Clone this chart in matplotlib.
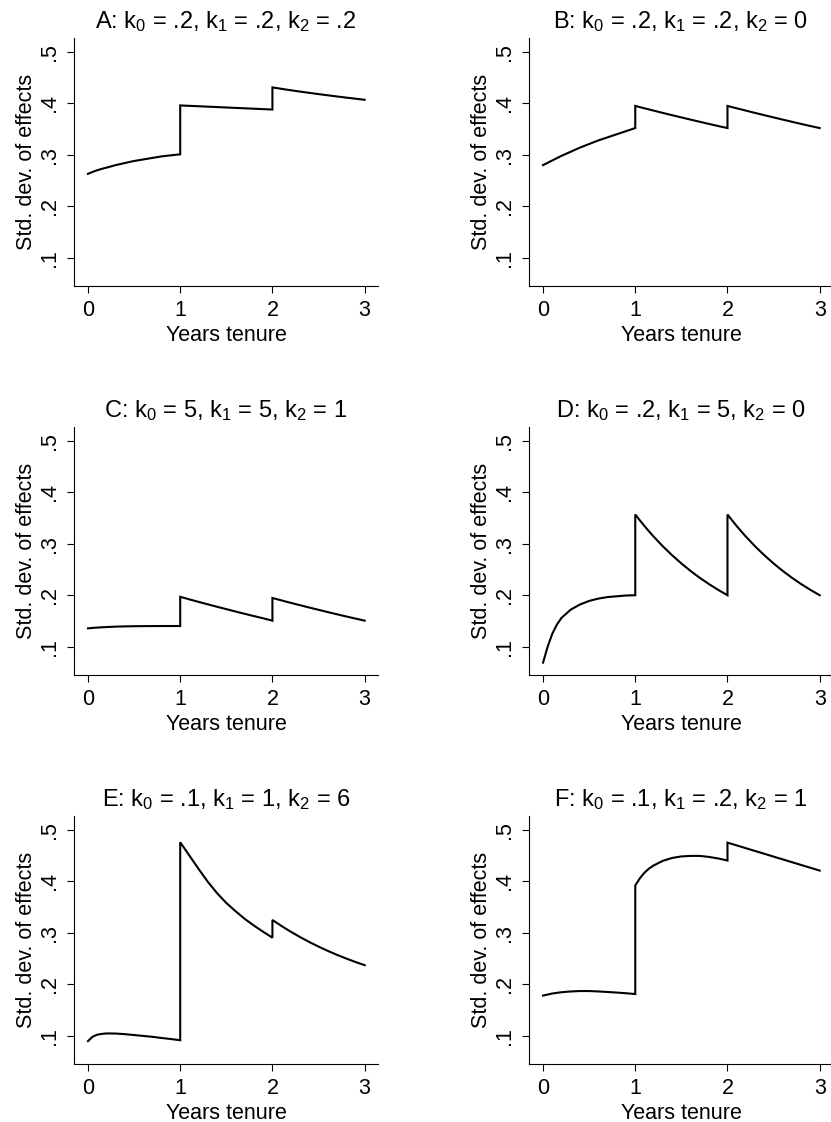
import numpy as np
import matplotlib
matplotlib.use('Agg')
import matplotlib.pyplot as plt

plt.rcParams['font.family'] = ['Liberation Sans', 'DejaVu Sans']
plt.rcParams['mathtext.fontset'] = 'custom'
plt.rcParams['mathtext.rm'] = 'Liberation Sans'
plt.rcParams['mathtext.it'] = 'Liberation Sans:italic'

# positions within each tenure year (same grid used for year 0-1, 1-2, 2-3)
step = np.array([0, .05, .1, .15, .2, .3, .4, .5, .6, .7, .8, .9, 1.0])
tenure = np.concatenate([step, step + 1, step + 2])

# std. dev. of effects: year 1 | year 2 | year 3
sd_a = [.263, .2668, .270, .2727, .275, .280, .284, .288, .291, .294, .297, .299, .301,
        .396, .3956, .3952, .3948, .3944, .3936, .3928, .392, .3912, .3904, .3896, .3888, .388,
        .431, .4296, .4282, .4268, .4255, .4229, .4204, .4180, .4157, .4134, .4112, .4091, .4070]
sd_b = [.280, .2845, .289, .2935, .298, .306, .314, .321, .328, .334, .340, .346, .352,
        .395, .3927, .3904, .3882, .3859, .3814, .3770, .3727, .3684, .3642, .3600, .3559, .3520,
        .395, .3927, .3904, .3882, .3859, .3814, .3770, .3727, .3684, .3642, .3600, .3559, .3520]
sd_c = [.1357, .1365, .1372, .1377, .1382, .1390, .1395, .1398, .1400, .1401, .1402, .1402, .1402,
        .1970, .1945, .1920, .1895, .1871, .1823, .1776, .1730, .1684, .1639, .1595, .1552, .1506,
        .1947, .1923, .1899, .1875, .1852, .1806, .1761, .1717, .1673, .1630, .1588, .1547, .1506]
sd_d = [.069, .100, .125, .143, .156, .172, .182, .189, .1935, .1965, .198, .1995, .200,
        .3570, .3456, .3345, .3240, .3139, .2950, .2777, .2618, .2472, .2338, .2216, .2104, .2000,
        .3570, .3456, .3345, .3240, .3139, .2950, .2777, .2618, .2472, .2338, .2216, .2104, .2000]
sd_e = [.0895, .098, .102, .1035, .1044, .1042, .1030, .1013, .0995, .0978, .0955, .0935, .0912,
        .476, .463, .450, .437, .424, .399, .377, .358, .342, .327, .314, .302, .2905,
        .325, .3190, .3131, .3075, .3020, .2917, .2821, .2732, .2649, .2572, .2500, .2433, .2371]
sd_f = [.178, .180, .182, .1833, .1845, .186, .1868, .1868, .186, .185, .1838, .1825, .181,
        .392, .406, .417, .425, .431, .440, .4455, .4485, .4495, .4495, .4475, .4445, .4405,
        .4753, .4726, .4699, .4672, .4644, .4590, .4536, .4481, .4427, .4372, .4318, .4264, .4209]

titles = [
    'A: k$_{0}$ = .2, k$_{1}$ = .2, k$_{2}$ = .2',
    'B: k$_{0}$ = .2, k$_{1}$ = .2, k$_{2}$ = 0',
    'C: k$_{0}$ = 5, k$_{1}$ = 5, k$_{2}$ = 1',
    'D: k$_{0}$ = .2, k$_{1}$ = 5, k$_{2}$ = 0',
    'E: k$_{0}$ = .1, k$_{1}$ = 1, k$_{2}$ = 6',
    'F: k$_{0}$ = .1, k$_{1}$ = .2, k$_{2}$ = 1',
]
series = [sd_a, sd_b, sd_c, sd_d, sd_e, sd_f]

x_ticks = [0, 1, 2, 3]
y_ticks = [.1, .2, .3, .4, .5]
y_tick_labels = ['.1', '.2', '.3', '.4', '.5']

fig = plt.figure(figsize=(8.31, 11.22), dpi=100)

col_left = [0.089, 0.6366]
row_bottom = [0.7451, 0.3984, 0.0517]
ax_w, ax_h = 0.3658, 0.2210

for i, (title, sd) in enumerate(zip(titles, series)):
    ax = fig.add_axes([col_left[i % 2], row_bottom[i // 2], ax_w, ax_h])
    ax.plot(tenure, sd, color='black', lw=1.5, solid_joinstyle='miter')
    ax.set_xlim(-0.152, 3.144)
    ax.set_ylim(0.045, 0.527)
    ax.set_xticks(x_ticks)
    ax.set_yticks(y_ticks)
    ax.set_yticklabels(y_tick_labels, rotation=90, va='center')
    ax.spines['top'].set_visible(False)
    ax.spines['right'].set_visible(False)
    for s in ['left', 'bottom']:
        ax.spines[s].set_linewidth(0.8)
    ax.tick_params(direction='out', length=5, width=0.8, labelsize=15.5, pad=5)
    ax.set_xlabel('Years tenure', fontsize=15.5, labelpad=3)
    ax.set_ylabel('Std. dev. of effects', fontsize=15.5, labelpad=1.5)
    ax.set_title(title, fontsize=17, pad=7)

fig.savefig('out.png', dpi=100)
